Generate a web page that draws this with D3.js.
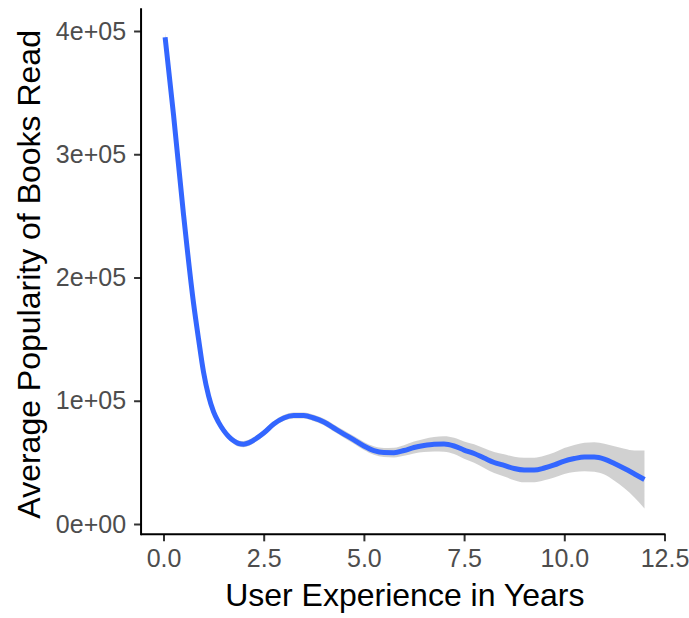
<!DOCTYPE html>
<html>
<head>
<meta charset="utf-8">
<script src="https://cdn.jsdelivr.net/npm/d3@7"></script>
<style>
  html, body { margin: 0; padding: 0; background: #fff; }
  svg { display: block; }
  text { font-family: "Liberation Sans", Arial, Helvetica, sans-serif; }
</style>
</head>
<body>
<div id="chart"></div>
<script>
// ---- data ----
const years = [0.04, 0.25, 0.5, 0.75, 0.875, 1.0, 1.125, 1.25, 1.375, 1.5, 1.625, 1.75, 1.875, 2.0, 2.125, 2.25,
  2.5, 2.75, 3.0, 3.25, 3.5, 3.75,
  4.0, 4.25, 4.5, 4.75, 5.0, 5.25, 5.5, 5.75, 6.0, 6.25, 6.5, 6.75, 7.0, 7.25, 7.5, 7.75,
  8.0, 8.25, 8.5, 8.75, 9.0, 9.25, 9.5, 9.75, 10.0, 10.25, 10.5, 10.75, 11.0, 11.25, 11.5, 11.75, 12.0];
const popularity = [395000, 332000, 251000, 179000, 150000, 123000, 104000, 91000, 82500, 76000, 71000, 67500,
  65300, 64800, 65800, 68000,
  73800, 81100, 86000, 88000, 88000, 86000, 82800, 77900, 73000, 68200, 63300, 59600, 58000, 57900, 59600, 62100,
  63700, 64700, 64900, 63300, 60000, 57200, 53500, 49900, 47500, 45000, 43800, 43800, 45400, 47900,
  51100, 53100, 54400, 54400, 52700, 49100, 45000, 40600, 36100];
const ciHalf = [3500, 3000, 2800, 2600, 2550, 2500, 2500, 2500, 2500, 2500, 2500, 2500, 2500, 2500, 2500, 2500,
  2500, 2500, 2500, 2500, 2500, 2600,
  2700, 2900, 3000, 3100, 3200, 3400, 3600, 3900, 4300, 4800, 5300, 5800, 6200, 6600, 7000, 7500,
  8000, 8500, 9000, 9500, 10000, 10000, 10000, 10200, 10500, 11000, 11500, 12000, 12500, 14000, 16000, 19000, 23500];
const xTicks = [0, 2.5, 5, 7.5, 10, 12.5];
const xTickLabels = ["0.0", "2.5", "5.0", "7.5", "10.0", "12.5"];
const yTicks = [0, 100000, 200000, 300000, 400000];
const yTickLabels = ["0e+00", "1e+05", "2e+05", "3e+05", "4e+05"];
const xTitle = "User Experience in Years";
const yTitle = "Average Popularity of Books Read";

// ---- layout ----
const W = 689, H = 618;
const svg = d3.select("#chart").append("svg").attr("width", W).attr("height", H);

const x = d3.scaleLinear().domain([0, 12.5]).range([163.5, 664.5]);
const y = d3.scaleLinear().domain([0, 400000]).range([524, 31]);
const xMin = -0.56, yMin = -8400, yMax = 418400;

const rows = years.map((v, i) => ({ x: v, y: popularity[i], lo: popularity[i] - ciHalf[i], hi: popularity[i] + ciHalf[i] }));

// ribbon
svg.append("path")
  .datum(rows)
  .attr("fill", "#999999")
  .attr("fill-opacity", 0.45)
  .attr("d", d3.area().curve(d3.curveMonotoneX)
    .x(d => x(d.x)).y0(d => y(d.lo)).y1(d => y(d.hi)));

// smooth line
svg.append("path")
  .datum(rows)
  .attr("fill", "none")
  .attr("stroke", "#3366FF")
  .attr("stroke-width", 5)
  .attr("stroke-linejoin", "round")
  .attr("d", d3.line().curve(d3.curveMonotoneX).x(d => x(d.x)).y(d => y(d.y)));

// axes
const xAxis = d3.axisBottom(x).tickValues(xTicks).tickFormat((d, i) => xTickLabels[i]).tickSize(7).tickPadding(8);
const yAxis = d3.axisLeft(y).tickValues(yTicks).tickFormat((d, i) => yTickLabels[i]).tickSize(7).tickPadding(8);

const gx = svg.append("g").attr("transform", `translate(0,${y(yMin)})`).call(xAxis);
const gy = svg.append("g").attr("transform", `translate(${x(xMin)},0)`).call(yAxis);

[gx, gy].forEach(g => {
  g.select(".domain").remove();
  g.selectAll(".tick line").attr("stroke", "#333333").attr("stroke-width", 2);
  g.selectAll(".tick text").attr("fill", "#4D4D4D").attr("font-size", 25)
    .attr("font-family", "'Liberation Sans', Arial, Helvetica, sans-serif");
});

// axis lines
svg.append("line")
  .attr("x1", x(xMin)).attr("x2", x(12.5) + 1)
  .attr("y1", y(yMin)).attr("y2", y(yMin))
  .attr("stroke", "#000").attr("stroke-width", 2);
svg.append("line")
  .attr("x1", x(xMin)).attr("x2", x(xMin))
  .attr("y1", y(yMin) + 1).attr("y2", y(yMax))
  .attr("stroke", "#000").attr("stroke-width", 2);

// titles
svg.append("text")
  .attr("x", (x(xMin) + x(12.6)) / 2).attr("y", 606)
  .attr("text-anchor", "middle").attr("font-size", 32).attr("fill", "#000")
  .text(xTitle);
svg.append("text")
  .attr("transform", `translate(40,${(y(yMin) + y(yMax)) / 2 + 3}) rotate(-90)`)
  .attr("text-anchor", "middle").attr("font-size", 32).attr("fill", "#000")
  .text(yTitle);
</script>
</body>
</html>
